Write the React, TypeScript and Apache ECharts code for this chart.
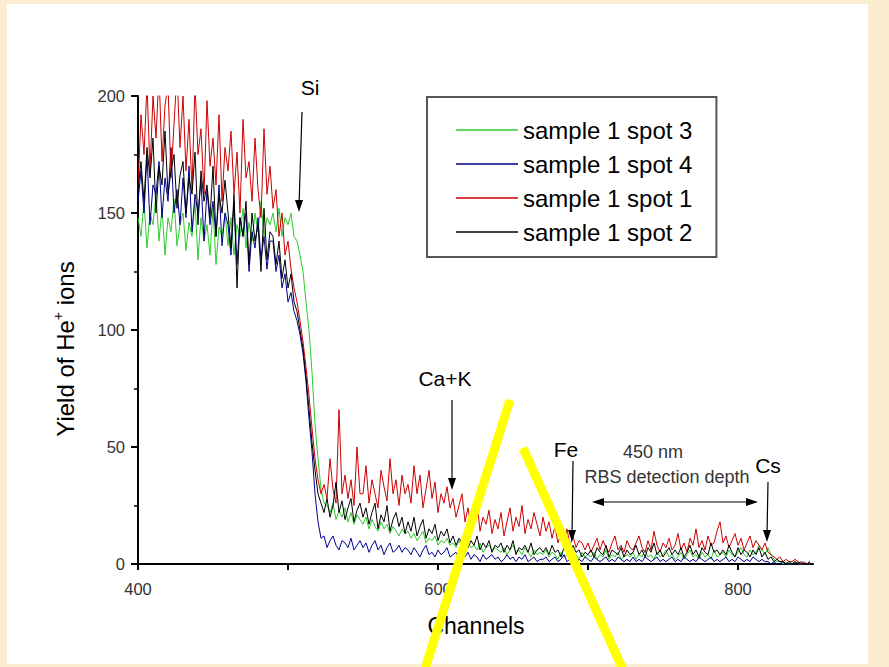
import { useEffect, useRef } from "react";
import * as echarts from "echarts";

// Spectra sampled every CHANNEL_STEP channels starting at CHANNEL_START
const CHANNEL_START = 400;
const CHANNEL_STEP = 2;

const channelTicks = [400, 500, 600, 700, 800];
const channelLabels = [400, 600, 800];
const yieldTicks = [0, 50, 100, 150, 200];

const seriesNames = ["sample 1 spot 3", "sample 1 spot 4", "sample 1 spot 1", "sample 1 spot 2"];
const seriesColors = ["#2ccc2c", "#00008c", "#cc0000", "#000000"];

// sample 1 spot 3 (green)
const spot3 = [
  148, 140, 155, 135, 150, 145, 158, 138, 152, 132, 148, 142, 156, 136, 145,
  150, 134, 146, 140, 155, 130, 148, 138, 145, 132, 152, 128, 144, 140, 150,
  136, 148, 132, 145, 140, 152, 135, 146, 138, 150, 142, 155, 140, 148, 145,
  150, 142, 152, 140, 148, 145, 150, 140, 138, 132, 125, 112, 100, 82, 60,
  45, 32, 26, 25, 22, 26, 19, 23, 20, 24, 18, 22, 17, 21, 19,
  17, 20, 15, 19, 16, 14, 18, 15, 17, 13, 16, 14, 12, 15, 13,
  14, 11, 13, 10, 12, 14, 9, 11, 10, 12, 8, 10, 9, 11, 8,
  9, 7, 10, 8, 6, 9, 7, 8, 6, 9, 5, 7, 8, 6, 7,
  6, 5, 7, 4, 6, 8, 5, 6, 4, 7, 5, 3, 6, 4, 5,
  4, 6, 3, 5, 4, 2, 5, 3, 4, 6, 3, 4, 2, 5, 3,
  4, 3, 5, 2, 4, 3, 6, 2, 4, 3, 5, 2, 3, 4, 3,
  5, 2, 4, 3, 6, 3, 4, 2, 5, 3, 4, 6, 3, 4, 2,
  3, 5, 2, 4, 6, 3, 4, 2, 5, 3, 4, 2, 6, 3, 4,
  5, 3, 6, 4, 3, 5, 7, 4, 3, 6, 4, 5, 8, 6, 4,
  7, 4, 2, 1, 1, 0, 1, 0, 0, 1, 0, 0, 0, 0, 0,
];

// sample 1 spot 4 (blue)
const spot4 = [
  155, 168, 150, 175, 145, 162, 158, 172, 148, 165, 155, 178, 150, 160, 145,
  165, 148, 170, 142, 158, 150, 164, 138, 160, 145, 155, 140, 162, 136, 150,
  145, 132, 155, 128, 148, 140, 150, 125, 142, 135, 148, 130, 140, 126, 138,
  138, 125, 132, 118, 124, 112, 116, 108, 104, 98, 90, 78, 62, 48, 30,
  18, 11, 12, 7, 10, 12, 8, 6, 10, 9, 7, 11, 6, 8, 10,
  7, 9, 5, 8, 10, 6, 8, 4, 7, 9, 5, 6, 8, 5, 7,
  6, 4, 7, 5, 3, 6, 8, 4, 5, 3, 6, 4, 5, 7, 3,
  4, 5, 2, 4, 3, 5, 2, 4, 3, 1, 4, 2, 3, 4, 2,
  3, 1, 2, 4, 2, 3, 1, 3, 2, 4, 1, 2, 3, 1, 2,
  2, 3, 1, 2, 3, 1, 2, 4, 1, 2, 3, 1, 2, 1, 3,
  2, 1, 3, 2, 1, 2, 3, 1, 2, 1, 3, 2, 1, 2, 1,
  3, 1, 2, 1, 3, 2, 1, 2, 3, 1, 2, 1, 2, 3, 1,
  2, 1, 3, 2, 1, 2, 1, 3, 2, 1, 2, 3, 1, 2, 1,
  2, 3, 1, 2, 1, 3, 2, 1, 2, 1, 3, 2, 1, 2, 1,
  1, 0, 1, 0, 0, 1, 0, 0, 0, 0, 1, 0, 0, 0, 0,
];

// sample 1 spot 1 (red)
const spot1 = [
  160, 192, 175, 205, 168, 200, 182, 210, 172, 196, 205, 165, 188, 210, 178,
  200, 168, 190, 160, 205, 175, 186, 158, 198, 170, 182, 162, 192, 155, 178,
  168, 185, 158, 176, 150, 190, 165, 172, 155, 182, 160, 148, 186, 158, 170,
  152, 160, 140, 150, 132, 138, 126, 118, 112, 104, 95, 84, 72, 58, 45,
  36, 30, 34, 28, 45, 32, 26, 66, 30, 38, 28, 36, 25, 50, 30,
  30, 42, 26, 36, 30, 24, 40, 33, 27, 45, 30, 36, 25, 38, 30,
  34, 26, 42, 30, 38, 24, 32, 40, 28, 35, 22, 30, 26, 33, 24,
  28, 20, 25, 30, 18, 24, 16, 22, 27, 14, 20, 17, 23, 13, 19,
  15, 22, 12, 18, 24, 14, 20, 16, 25, 13, 19, 15, 22, 17, 12,
  20, 14, 18, 11, 16, 9, 13, 10, 15, 8, 12, 7, 10, 9, 6,
  9, 5, 8, 11, 6, 10, 7, 5, 9, 12, 6, 8, 5, 10, 7,
  6, 9, 12, 7, 5, 10, 6, 14, 8, 5, 9, 7, 11, 6, 8,
  13, 6, 9, 5, 11, 8, 15, 7, 10, 6, 12, 8, 9, 14, 18,
  9, 12, 7, 10, 13, 8, 11, 6, 9, 12, 7, 10, 8, 6, 9,
  5, 4, 3, 2, 3, 1, 2, 1, 1, 2, 1, 0, 1, 0, 1,
];

// sample 1 spot 2 (black)
const spot2 = [
  160, 172, 155, 178, 165, 182, 150, 170, 162, 185, 158, 168, 175, 152, 166,
  172, 150, 165, 158, 176, 145, 168, 155, 162, 148, 170, 140, 158, 150, 164,
  150, 135, 158, 118, 148, 140, 155, 128, 150, 138, 145, 125, 152, 130, 142,
  140, 128, 138, 122, 130, 118, 124, 112, 108, 100, 92, 80, 66, 52, 40,
  30, 26, 22, 28, 20, 25, 35, 22, 27, 19, 24, 28, 18, 23, 26,
  20, 24, 17, 22, 26, 15, 21, 18, 25, 14, 19, 22, 16, 20, 13,
  18, 14, 20, 12, 16, 19, 11, 15, 13, 17, 10, 14, 12, 15, 9,
  12, 8, 11, 9, 13, 7, 10, 8, 12, 6, 9, 7, 10, 5, 8,
  7, 9, 5, 8, 6, 10, 4, 7, 6, 8, 5, 9, 4, 6, 7,
  5, 7, 4, 8, 5, 6, 3, 7, 5, 4, 8, 5, 6, 3, 5,
  4, 6, 3, 7, 5, 4, 8, 3, 6, 5, 4, 7, 3, 6, 4,
  5, 8, 4, 6, 3, 7, 5, 9, 4, 6, 3, 5, 7, 4, 6,
  4, 7, 3, 5, 8, 4, 6, 3, 7, 5, 4, 9, 5, 6, 4,
  6, 4, 8, 5, 3, 7, 4, 6, 5, 3, 6, 4, 7, 3, 5,
  2, 3, 1, 2, 1, 1, 0, 1, 0, 1, 0, 1, 0, 0, 1,
];

const seriesValues = [spot3, spot4, spot1, spot2];

const FONT = "'Liberation Sans', Arial, sans-serif";

function arrowDown(x1: number, y1: number, x2: number, y2: number) {
  return [
    { type: "line", z: 50, shape: { x1, y1, x2, y2: y2 - 6 }, style: { stroke: "#000", lineWidth: 1.2 } },
    {
      type: "polygon",
      z: 50,
      shape: { points: [[x2 - 4, y2 - 12], [x2 + 4, y2 - 12], [x2, y2]] },
      style: { fill: "#000" },
    },
  ];
}

export default function App() {
  const ref = useRef<HTMLDivElement>(null);

  useEffect(() => {
    if (!ref.current) return;
    const chart = echarts.init(ref.current, undefined, { renderer: "svg" });

    const series = seriesNames.map((name, k) => ({
      name,
      type: "line",
      symbol: "none",
      showSymbol: false,
      clip: true,
      lineStyle: { color: seriesColors[k], width: 1 },
      itemStyle: { color: seriesColors[k] },
      data: seriesValues[k].map((v, i) => [CHANNEL_START + i * CHANNEL_STEP, v]),
    }));

    const graphic: any[] = [
      { type: "rect", z: -10, silent: true, shape: { x: 7, y: 4, width: 861, height: 660 }, style: { fill: "#ffffff" } },
      // axis titles
      {
        type: "text",
        z: 20,
        x: 65,
        y: 349,
        rotation: Math.PI / 2,
        style: {
          text: "{a|Yield of He}{b|+}{a| ions}",
          align: "center",
          verticalAlign: "middle",
          rich: {
            a: { fontSize: 24, fontFamily: FONT, fill: "#000", lineHeight: 28 },
            b: { fontSize: 14, fontFamily: FONT, fill: "#000", verticalAlign: "top", lineHeight: 15 },
          },
        },
      },
      {
        type: "text",
        z: 20,
        x: 476,
        y: 626,
        style: { text: "Channels", fontSize: 23, fontFamily: FONT, fill: "#000", align: "center", verticalAlign: "middle" },
      },
      // annotations
      { type: "text", z: 20, x: 310, y: 87, style: { text: "Si", fontSize: 21, fontFamily: FONT, fill: "#000", align: "center", verticalAlign: "middle" } },
      { type: "text", z: 20, x: 445, y: 378, style: { text: "Ca+K", fontSize: 21, fontFamily: FONT, fill: "#000", align: "center", verticalAlign: "middle" } },
      { type: "text", z: 20, x: 566, y: 449, style: { text: "Fe", fontSize: 21, fontFamily: FONT, fill: "#000", align: "center", verticalAlign: "middle" } },
      { type: "text", z: 20, x: 768, y: 465, style: { text: "Cs", fontSize: 21, fontFamily: FONT, fill: "#000", align: "center", verticalAlign: "middle" } },
      { type: "text", z: 20, x: 653, y: 452, style: { text: "450 nm", fontSize: 18, fontFamily: FONT, fill: "#333", align: "center", verticalAlign: "middle" } },
      { type: "text", z: 20, x: 667, y: 477, style: { text: "RBS detection depth", fontSize: 18, fontFamily: FONT, fill: "#333", align: "center", verticalAlign: "middle" } },
      ...arrowDown(302, 112, 299, 212),
      ...arrowDown(452, 400, 452, 490),
      ...arrowDown(573, 461, 572, 542),
      ...arrowDown(768, 482, 767, 542),
      { type: "line", z: 50, shape: { x1: 600, y1: 502, x2: 750, y2: 502 }, style: { stroke: "#000", lineWidth: 1.2 } },
      { type: "polygon", z: 50, shape: { points: [[592, 502], [604, 498], [604, 506]] }, style: { fill: "#000" } },
      { type: "polygon", z: 50, shape: { points: [[758, 502], [746, 498], [746, 506]] }, style: { fill: "#000" } },
      // yellow overlay strokes
      { type: "line", z: 100, shape: { x1: 510, y1: 400, x2: 424, y2: 672 }, style: { stroke: "#ffff00", lineWidth: 9 } },
      { type: "line", z: 100, shape: { x1: 523, y1: 448, x2: 624, y2: 672 }, style: { stroke: "#ffff00", lineWidth: 9 } },
    ];

    chart.setOption({
      animation: false,
      backgroundColor: "#fbedcf",
      textStyle: { fontFamily: FONT },
      grid: { left: 138, top: 96, width: 675, height: 468 },
      legend: {
        orient: "vertical",
        left: 427,
        top: 97,
        data: seriesNames,
        icon: "rect",
        itemWidth: 62,
        itemHeight: 1.5,
        itemGap: 10,
        padding: [21, 24, 13, 29],
        borderColor: "#555",
        borderWidth: 2,
        backgroundColor: "#fff",
        textStyle: { fontSize: 24, color: "#000", fontFamily: FONT, lineHeight: 24 },
      },
      xAxis: {
        type: "value",
        min: 400,
        max: 850,
        interval: 100,
        axisLine: { show: true, onZero: false, lineStyle: { color: "#000", width: 2 } },
        axisTick: { show: true, inside: false, length: 6, customValues: channelTicks, lineStyle: { color: "#000", width: 2 } },
        axisLabel: { customValues: channelLabels, color: "#333", fontSize: 16.5, margin: 16, fontFamily: FONT },
        splitLine: { show: false },
      },
      yAxis: {
        type: "value",
        min: 0,
        max: 200,
        interval: 50,
        axisLine: { show: true, lineStyle: { color: "#000", width: 2 } },
        axisTick: { show: true, inside: false, length: 7, customValues: yieldTicks, lineStyle: { color: "#000", width: 2 } },
        minorTick: { show: true, splitNumber: 2, length: 4, lineStyle: { color: "#000", width: 1.5 } },
        axisLabel: { color: "#333", fontSize: 16.5, margin: 13, fontFamily: FONT },
        splitLine: { show: false },
      },
      series,
      graphic,
    });

    return () => chart.dispose();
  }, []);

  return <div ref={ref} style={{ position: "absolute", left: 0, top: 0, width: 889, height: 667 }} />;
}
